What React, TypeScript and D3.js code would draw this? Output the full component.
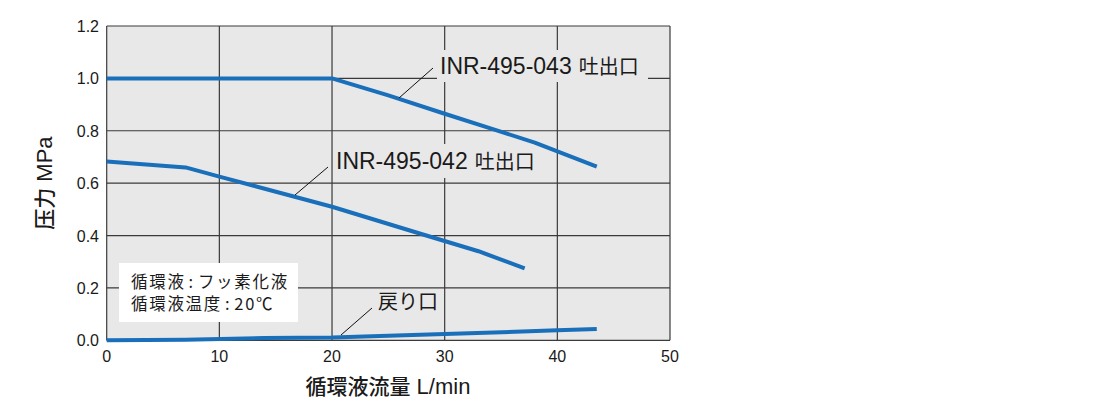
import React from "react";
import * as d3 from "d3";

const xTicks = [0, 10, 20, 30, 40, 50];
const yTicks = [0, 0.2, 0.4, 0.6, 0.8, 1.0, 1.2];

const flow043 = [0, 20, 25, 30, 34, 38, 43.5];
const pres043 = [1.0, 1.0, 0.935, 0.865, 0.81, 0.755, 0.663];

const flow042 = [0, 7, 10, 20, 28, 33, 37.1];
const pres042 = [0.683, 0.66, 0.625, 0.51, 0.405, 0.34, 0.275];

const flowRet = [0, 7, 14, 20, 30, 40, 43.5];
const presRet = [0.0, 0.002, 0.009, 0.011, 0.024, 0.038, 0.043];

const model043 = "INR-495-043";
const model042 = "INR-495-042";
const outletText = "吐出口";
const labelRet = "戻り口";
const noteKeys = ["循環液", "循環液温度"];
const noteValues = ["フッ素化液", "20℃"];
const xTitleJa = "循環液流量";
const xTitleUnit = "L/min";
const yTitleJa = "压力";
const yTitleUnit = "MPa";

const LATIN = "'Liberation Sans', Arial, sans-serif";
const CJK = "'Noto Sans CJK JP', 'Noto Sans', sans-serif";
const BLUE = "#1a6fba";

export default function App() {
  const left = 106.7, right = 670, top = 26, bottom = 340.3;
  const x = d3.scaleLinear().domain([0, 50]).range([left, right]);
  const y = d3.scaleLinear().domain([0, 1.2]).range([bottom, top]);
  const line = d3
    .line<[number, number]>()
    .x((d) => x(d[0]))
    .y((d) => y(d[1]));
  const zip = (a: number[], b: number[]) => a.map((v, i) => [v, b[i]] as [number, number]);

  return (
    <svg width={1100} height={420} style={{ position: "absolute", left: 0, top: 0 }}>
      <rect x={0} y={0} width={1100} height={420} fill="#fff" />
      <rect x={left} y={top} width={right - left} height={bottom - top} fill="#e8e8e8" />
      {xTicks.map((t) => (
        <line key={"gx" + t} x1={x(t)} x2={x(t)} y1={top} y2={bottom} stroke="#3a3a3a" strokeWidth={1.2} />
      ))}
      {yTicks.map((t) => (
        <line key={"gy" + t} x1={left} x2={right} y1={y(t)} y2={y(t)} stroke="#3a3a3a" strokeWidth={1.2} />
      ))}
      {/* label background patches */}
      <rect x={437} y={50} width={211} height={32} fill="#e8e8e8" />
      <rect x={334} y={144} width={210} height={34} fill="#e8e8e8" />
      <rect x={119} y={263} width={179} height={59} fill="#ffffff" />

      {/* data lines */}
      <path d={line(zip(flow043, pres043)) || ""} fill="none" stroke={BLUE} strokeWidth={4} strokeLinejoin="round" />
      <path d={line(zip(flow042, pres042)) || ""} fill="none" stroke={BLUE} strokeWidth={4} strokeLinejoin="round" />
      <path d={line(zip(flowRet, presRet)) || ""} fill="none" stroke={BLUE} strokeWidth={4} strokeLinejoin="round" />

      {/* leader lines */}
      <line x1={399} y1={98} x2={433} y2={68} stroke="#111" strokeWidth={1} />
      <line x1={295} y1={195} x2={328} y2={167} stroke="#111" strokeWidth={1} />
      <line x1={341} y1={335} x2={372} y2={308} stroke="#111" strokeWidth={1} />

      <g fill="#1a1a1a">
        <text x={440} y={74}>
          <tspan fontFamily={LATIN} fontSize={23}>{model043}</tspan>
          <tspan fontFamily={CJK} fontSize={20} dx={7}>{outletText}</tspan>
        </text>
        <text x={336} y={169}>
          <tspan fontFamily={LATIN} fontSize={23}>{model042}</tspan>
          <tspan fontFamily={CJK} fontSize={20} dx={7}>{outletText}</tspan>
        </text>
        <text x={378} y={309} fontFamily={CJK} fontSize={20}>{labelRet}</text>
        {noteKeys.map((k, i) => (
          <text key={"note" + i} x={131} y={288 + i * 22} fontFamily={CJK} fontSize={16.5} letterSpacing={1.7}>
            <tspan>{k}</tspan>
            <tspan dx={3}>:</tspan>
            <tspan dx={3}>{noteValues[i]}</tspan>
          </text>
        ))}
        {xTicks.map((t) => (
          <text key={"xt" + t} x={x(t)} y={362} fontFamily={LATIN} fontSize={16} textAnchor="middle">{t}</text>
        ))}
        {yTicks.map((t) => (
          <text key={"yt" + t} x={99} y={y(t) + 6} fontFamily={LATIN} fontSize={16} textAnchor="end">{t.toFixed(1)}</text>
        ))}
        <text x={388} y={394} textAnchor="middle">
          <tspan fontFamily={CJK} fontSize={21} fontWeight={500}>{xTitleJa}</tspan>
          <tspan fontFamily={LATIN} fontSize={22} dx={6}>{xTitleUnit}</tspan>
        </text>
        <text transform={`translate(52,183) rotate(-90)`} textAnchor="middle">
          <tspan fontFamily={CJK} fontSize={21} fontWeight={500}>{yTitleJa}</tspan>
          <tspan fontFamily={LATIN} fontSize={22} dx={6}>{yTitleUnit}</tspan>
        </text>
      </g>
    </svg>
  );
}
